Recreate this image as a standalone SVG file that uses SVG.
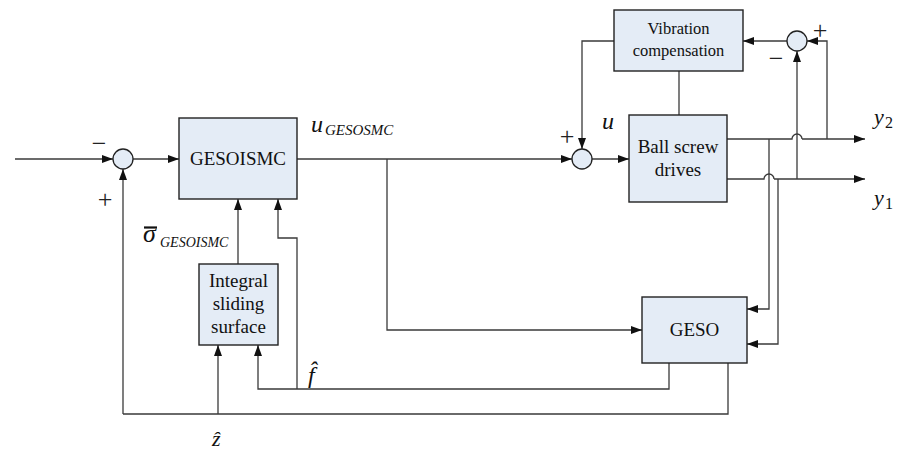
<svg xmlns="http://www.w3.org/2000/svg" width="899" height="453" viewBox="0 0 899 453">
<style>
.box{fill:#e4ecf6;stroke:#222;stroke-width:1.4}
.sum{fill:#e4ecf6;stroke:#222;stroke-width:1.3}
.ln{fill:none;stroke:#3a3a3a;stroke-width:1.3}
.ar{fill:none;stroke:#3a3a3a;stroke-width:1.3;marker-end:url(#ah)}
text{font-family:'Liberation Serif','Times New Roman','DejaVu Serif',serif;fill:#111}
.t{font-size:19px;text-anchor:middle}
.tv{font-size:16.5px;text-anchor:middle}
.i{font-style:italic}
.n{font-style:normal}
.s{font-size:26px;fill:#222;text-anchor:middle}
</style>
<defs>
<marker id="ah" markerWidth="12" markerHeight="10" refX="11" refY="4.5" orient="auto" markerUnits="userSpaceOnUse">
<path d="M0,0.5 L11,4.5 L0,8.5 Z" fill="#111"/>
</marker>
</defs>
<rect width="899" height="453" fill="#fff"/>
<g id="connectors">
<path class="ar" d="M15,159 H113"/>
<path class="ar" d="M133,159 H179"/>
<path class="ar" d="M297,159 H572"/>
<path class="ar" d="M592,159 H629"/>
<path class="ar" d="M123,414 V169"/>
<path class="ln" d="M123,414 H728 V363"/>
<path class="ar" d="M218,414 V345"/>
<path class="ar" d="M669,363 V389 H258 V345"/>
<path class="ar" d="M297,389 V238 H278 V199"/>
<path class="ar" d="M238,264 V199"/>
<path class="ar" d="M387,159 V330 H642"/>
<path class="ln" d="M727,139 H792 A5,5 0 0 1 802,139"/>
<path class="ar" d="M802,139 H865"/>
<path class="ln" d="M727,179 H764 A5,5 0 0 1 774,179"/>
<path class="ar" d="M774,179 H865"/>
<path class="ar" d="M769,139 V309 H747"/>
<path class="ar" d="M778,179 V344 H747"/>
<path class="ar" d="M797,179 V51"/>
<path class="ar" d="M827,139 V41 H807"/>
<path class="ar" d="M787,41 H743"/>
<path class="ar" d="M614,41 H582 V149"/>
<path class="ln" d="M679,71 V115"/>
</g>
<g id="sum1"><circle class="sum" cx="123" cy="159" r="10"/></g>
<g id="sum2"><circle class="sum" cx="582" cy="159" r="10"/></g>
<g id="sum3"><circle class="sum" cx="797" cy="41" r="10"/></g>
<g id="gesoismc">
<rect class="box" x="179" y="118" width="118" height="81"/>
<text class="t" x="238" y="165">GESOISMC</text>
</g>
<g id="integral">
<rect class="box" x="199" y="264" width="79" height="81"/>
<text class="t" x="238.5" y="287">Integral</text>
<text class="t" x="238.5" y="310">sliding</text>
<text class="t" x="238.5" y="333">surface</text>
</g>
<g id="vibration">
<rect class="box" x="614" y="10" width="129" height="61"/>
<text class="tv" x="678.5" y="34">Vibration</text>
<text class="tv" x="678.5" y="56">compensation</text>
</g>
<g id="ballscrew">
<rect class="box" x="629" y="115" width="98" height="87"/>
<text class="t" x="678" y="153">Ball screw</text>
<text class="t" x="678" y="176">drives</text>
</g>
<g id="geso">
<rect class="box" x="642" y="297" width="105" height="66"/>
<text class="t" x="694.5" y="336">GESO</text>
</g>
<g id="labels">
<text class="s" x="99" y="152">−</text>
<text class="s" x="105" y="208">+</text>
<text class="s" x="567" y="145">+</text>
<text class="s" x="820" y="39">+</text>
<text class="s" x="776" y="67">−</text>
<text class="i" x="311" y="132" font-size="24">u</text>
<text class="i" x="325" y="135" font-size="15">GESOSMC</text>
<text class="i" x="602" y="129" font-size="24">u</text>
<line x1="144" y1="227.5" x2="157" y2="227.5" stroke="#111" stroke-width="2.2"/>
<text class="i" x="143" y="242" font-size="26">σ</text>
<text class="i" x="160" y="247" font-size="14">GESOISMC</text>
<text class="i" x="308" y="383" font-size="24">f̂</text>
<text class="i" x="212" y="446" font-size="22">ẑ</text>
<text class="i" x="874" y="124" font-size="22">y</text>
<text class="n" x="885" y="128" font-size="16">2</text>
<text class="i" x="874" y="205" font-size="22">y</text>
<text class="n" x="885" y="209" font-size="16">1</text>
</g>
</svg>
